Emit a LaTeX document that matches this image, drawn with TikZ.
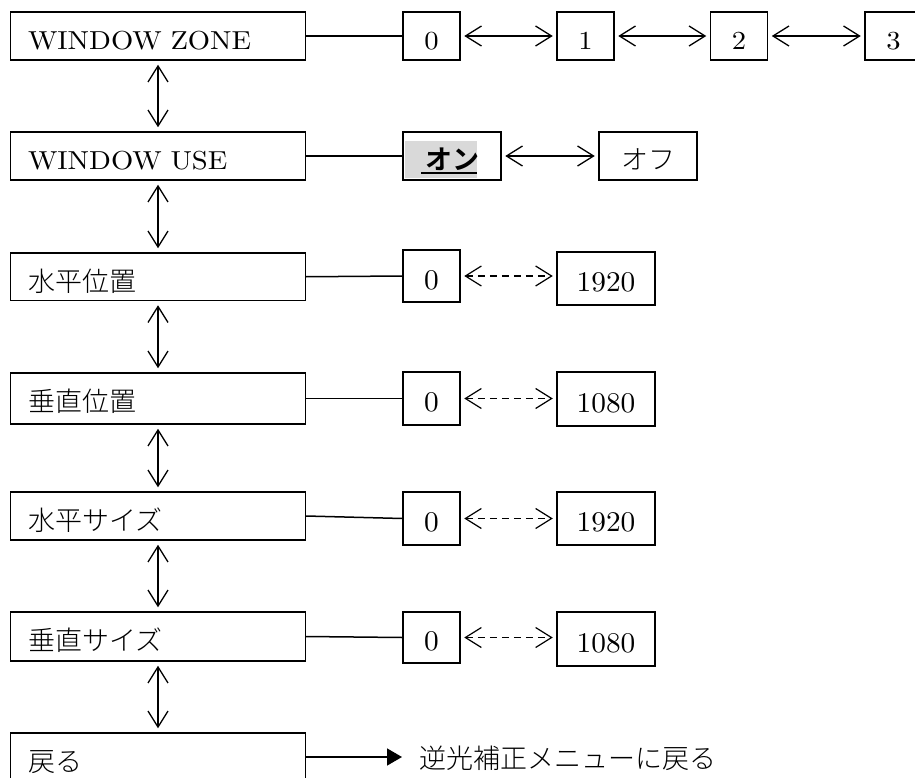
\documentclass[tikz,border=0pt]{standalone}
\usepackage{fontspec}
\setmainfont{lmroman10-regular.otf}[FakeStretch=1.1]
\newfontfamily\digfam{lmroman10-regular.otf}[FakeStretch=1.03]
\newfontfamily\jpfam{Noto Sans CJK JP}[UprightFont=* Light, BoldFont=* Bold]
\usetikzlibrary{arrows.meta}
\newcommand\txLat{\fontsize{26}{30}\selectfont}
\newcommand\txDig{\digfam\fontsize{28.5}{32}\selectfont}
\newcommand\txJp{\jpfam\fontsize{27}{30}\selectfont}
\definecolor{hl}{RGB}{217,217,217}
\begin{document}
\begin{tikzpicture}[x=1pt,y=-1pt,
  lbox/.style={draw, line width=1.5pt, inner xsep=17.3pt, inner ysep=0pt,
    text width=260pt, align=left, text height=38pt},
  sbox/.style={draw, line width=1.5pt, inner sep=0pt, align=center},
  conn/.style={line width=1.5pt},
  barb/.tip={Straight Barb[length=16pt,width=20pt]},
  biarr/.style={line width=1.3pt, barb-barb, shorten <=3.5pt, shorten >=3.5pt},
  dasharr/.style={biarr, line width=1.2pt, dash pattern=on 7pt off 5pt},
  vbiarr/.style={biarr, shorten <=4pt, shorten >=4pt}]
\useasboundingbox (0,0) rectangle (915,778);

% left column
\node[lbox, text depth=10pt, font=\txLat] (zone) at (158,36) {WINDOW ZONE};
\node[lbox, text depth=10pt, font=\txLat] (use) at (158,156) {WINDOW USE};
\node[lbox, text depth=9.5pt, font=\txJp] (hpos) at (158,276.75) {水平位置};
\node[lbox, text depth=13pt, font=\txJp] (vpos) at (158,398.5) {垂直位置};
\node[lbox, text depth=10pt, font=\txJp] (hsize) at (158,516) {水平サイズ};
\node[lbox, text depth=11pt, font=\txJp] (vsize) at (158,636.5) {垂直サイズ};
\node[lbox, text depth=10pt, font=\txJp] (back) at (158,757) {戻る};

\draw[vbiarr] (zone.south) -- (use.north);
\draw[vbiarr] (use.south) -- (hpos.north);
\draw[vbiarr] (hpos.south) -- (vpos.north);
\draw[vbiarr] (vpos.south) -- (hsize.north);
\draw[vbiarr] (hsize.south) -- (vsize.north);
\draw[vbiarr] (vsize.south) -- (back.north);

% row 1
\node[sbox, minimum width=57pt, text height=38pt, text depth=10pt, font=\txLat] (z0) at (431.5,36) {0};
\node[sbox, minimum width=57pt, text height=38pt, text depth=10pt, font=\txLat] (z1) at (585.5,36) {1};
\node[sbox, minimum width=57pt, text height=38pt, text depth=10pt, font=\txLat] (z2) at (739,36) {2};
\node[sbox, minimum width=57pt, text height=38pt, text depth=10pt, font=\txLat] (z3) at (893.5,36) {3};
\draw[conn] (zone.east) -- (z0.west);
\draw[biarr] (z0.east) -- (z1.west);
\draw[biarr] (z1.east) -- (z2.west);
\draw[biarr] (z2.east) -- (z3.west);

% row 2
\fill[hl] (405,141) rectangle (477,178);
\node[sbox, minimum width=98pt, text height=38pt, text depth=10pt, font=\txJp\bfseries] (on) at (452,156) {オン};
\draw[line width=2pt] (421,173.5) -- (477,173.5);
\node[sbox, minimum width=98pt, text height=38pt, text depth=10pt, font=\txJp] (off) at (648,156) {オフ};
\draw[conn] (use.east) -- (on.west);
\draw[biarr] (on.east) -- (off.west);

% row 3
\node[sbox, minimum width=57pt, text height=39pt, text depth=13pt, font=\txDig] (hp0) at (431.5,276) {0};
\node[sbox, minimum width=98pt, text height=39.5pt, text depth=13.5pt, font=\txDig] (hp1) at (606,278.5) {1920};
\draw[conn] (hpos.east) -- (hp0.west);
\draw[dasharr] (hp0.east) -- (hp0.east -| hp1.west);

% row 4
\node[sbox, minimum width=57pt, text height=39.5pt, text depth=13.5pt, font=\txDig] (vp0) at (431.5,398.5) {0};
\node[sbox, minimum width=98pt, text height=40pt, text depth=14pt, font=\txDig] (vp1) at (606,399) {1080};
\draw[conn] (vpos.east) -- (vp0.west);
\draw[dasharr] (vp0.east) -- (vp0.east -| vp1.west);

% row 5
\node[sbox, minimum width=57pt, text height=39.5pt, text depth=13.5pt, font=\txDig] (hs0) at (431.5,518.5) {0};
\node[sbox, minimum width=98pt, text height=39.5pt, text depth=13.5pt, font=\txDig] (hs1) at (606,518.5) {1920};
\draw[conn] (hsize.east) -- (hs0.west);
\draw[dasharr] (hs0.east) -- (hs0.east -| hs1.west);

% row 6
\node[sbox, minimum width=57pt, text height=38.5pt, text depth=12.5pt, font=\txDig] (vs0) at (431.5,637.5) {0};
\node[sbox, minimum width=98pt, text height=40pt, text depth=14pt, font=\txDig] (vs1) at (606,639) {1080};
\draw[conn] (vsize.east) -- (vs0.west);
\draw[dasharr] (vs0.east) -- (vs0.east -| vs1.west);

% back
\coordinate (backtip) at (402,757);
\draw[conn, -{Triangle[length=15pt,width=17pt]}] (back.east) -- (backtip);
\node[anchor=west, inner sep=0pt, font=\txJp] (backtxt) at (419,758) {逆光補正メニューに戻る};
\end{tikzpicture}
\end{document}
